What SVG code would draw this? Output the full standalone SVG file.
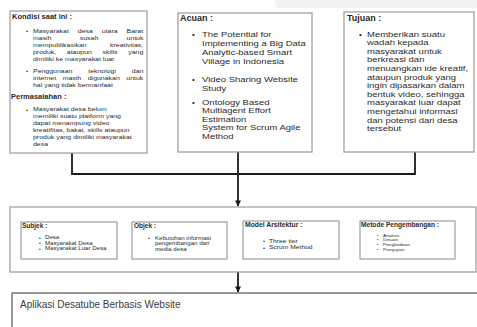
<svg xmlns="http://www.w3.org/2000/svg" width="477" height="327" viewBox="0 0 477 327">
<defs>
<style>
.t{font-family:"Liberation Sans",Arial,sans-serif;fill:#2a2a2a}
.h{font-weight:bold}
.sl{font-size:5.8px}
.sm{font-size:7.3px}
.sb{font-size:4.9px}
.box{fill:#fff;stroke:#9a9a9a;stroke-width:1.2}
.ibox{fill:#fff;stroke:#8a8a8a;stroke-width:1}
.conn{fill:none;stroke:#1a1a1a;stroke-width:1.8}
</style>
<marker id="arr" viewBox="0 0 10 10" refX="9" refY="5" markerWidth="3.4" markerHeight="3.4" orient="auto" markerUnits="strokeWidth">
<path d="M0,0 L10,5 L0,10 z" fill="#1a1a1a"/>
</marker>
</defs>
<rect x="0" y="0" width="477" height="327" fill="#fff"/>
<rect x="275" y="-4" width="206" height="12" rx="4" fill="#f3f3f3"/>

<g id="connectors">
<path class="conn" d="M72,153 V174 H415 V152"/>
<path class="conn" d="M238,152 V206" marker-end="url(#arr)"/>
<path class="conn" d="M238,272 V292" marker-end="url(#arr)"/>
</g>

<g id="kondisi">
<rect class="box" x="10" y="11" width="137" height="142"/>
<text class="t h" x="12" y="19" style="font-size:7.5px">Kondisi saat ini :</text>
<text class="t sl" x="26" y="33">•</text>
<text class="t sl" x="26" y="73">•</text>
<text class="t h" x="11" y="99" style="font-size:7.5px">Permasalahan :</text>
<text class="t sl" x="26" y="111.5">•</text>
<g transform="translate(33,0) scale(1.2,1)">
<text class="t sl" x="0" y="33" word-spacing="5.83">Masyarakat desa utara Barat</text>
<text class="t sl" x="0" y="40" word-spacing="21.9">masih susah untuk</text>
<text class="t sl" x="0" y="47" word-spacing="17.9">mempublikasikan kreativitas,</text>
<text class="t sl" x="0" y="54" word-spacing="7.25">produk, ataupun skills yang</text>
<text class="t sl" x="0" y="61">dimiliki ke masyarakat luar</text>
<text class="t sl" x="0" y="73" word-spacing="11.6">Penggunaan teknologi dan</text>
<text class="t sl" x="0" y="80" word-spacing="3.83">internet masih digunakan untuk</text>
<text class="t sl" x="0" y="87">hal yang tidak bermanfaat</text>
<text class="t sl" x="0" y="111.5">Masyarakat desa belum</text>
<text class="t sl" x="0" y="118.5">memiliki suatu platform yang</text>
<text class="t sl" x="0" y="125.5">dapat menampung video</text>
<text class="t sl" x="0" y="132.5">kreatifitas, bakat, skills ataupun</text>
<text class="t sl" x="0" y="139.5">produk yang dimiliki masyarakat</text>
<text class="t sl" x="0" y="146.5">desa</text>
</g>
</g>

<g id="acuan">
<rect class="box" x="178" y="13" width="134" height="139"/>
<text class="t h" x="180" y="21" style="font-size:9px">Acuan :</text>
<text class="t" x="192" y="37" style="font-size:8px">•</text>
<text class="t" x="192" y="82" style="font-size:8px">•</text>
<text class="t" x="192" y="105" style="font-size:8px">•</text>
<g transform="translate(202,0) scale(1.3,1)">
<text class="t sm" x="0" y="37">The Potential for</text>
<text class="t sm" x="0" y="46">Implementing a Big Data</text>
<text class="t sm" x="0" y="55">Analytic-based Smart</text>
<text class="t sm" x="0" y="64">Village in Indonesia</text>
<text class="t sm" x="0" y="82">Video Sharing Website</text>
<text class="t sm" x="0" y="91">Study</text>
<text class="t sm" x="0" y="105">Ontology Based</text>
<text class="t sm" x="0" y="113.5">Multiagent Effort</text>
<text class="t sm" x="0" y="122">Estimation</text>
<text class="t sm" x="0" y="130.5">System for Scrum Agile</text>
<text class="t sm" x="0" y="139">Method</text>
</g>
</g>

<g id="tujuan">
<rect class="box" x="344" y="12" width="130" height="140"/>
<text class="t h" x="347" y="21" style="font-size:9px">Tujuan :</text>
<text class="t" x="359" y="36.6" style="font-size:8px">•</text>
<g transform="translate(367,0) scale(1.3,1)">
<text class="t sm" x="0" y="36.6">Memberikan suatu</text>
<text class="t sm" x="0" y="45.2">wadah kepada</text>
<text class="t sm" x="0" y="53.8">masyarakat untuk</text>
<text class="t sm" x="0" y="62.4">berkreasi dan</text>
<text class="t sm" x="0" y="71">menuangkan ide kreatif,</text>
<text class="t sm" x="0" y="79.6">ataupun produk yang</text>
<text class="t sm" x="0" y="88.2">ingin dipasarkan dalam</text>
<text class="t sm" x="0" y="96.8">bentuk video, sehingga</text>
<text class="t sm" x="0" y="105.4">masyarakat luar dapat</text>
<text class="t sm" x="0" y="114">mengetahui informasi</text>
<text class="t sm" x="0" y="122.6">dan potensi dari desa</text>
<text class="t sm" x="0" y="131.2">tersebut</text>
</g>
</g>

<g id="rincian">
<rect class="box" x="10" y="207" width="466" height="65"/>
</g>

<g id="subjek">
<rect class="ibox" x="21" y="222" width="96" height="37"/>
<text class="t h" x="22" y="227.5" style="font-size:6.5px">Subjek :</text>
<text class="t sb" x="39" y="239.5">•</text>
<text class="t sb" x="39" y="245">•</text>
<text class="t sb" x="39" y="250.5">•</text>
<g transform="translate(45,0) scale(1.25,1)">
<text class="t sb" x="0" y="239.5">Desa</text>
<text class="t sb" x="0" y="245">Masyarakat Desa</text>
<text class="t sb" x="0" y="250.5">Masyarakat Luar Desa</text>
</g>
</g>

<g id="objek">
<rect class="ibox" x="132" y="222" width="95" height="37"/>
<text class="t h" x="134" y="228" style="font-size:6.5px">Objek :</text>
<text class="t sb" x="148" y="240">•</text>
<g transform="translate(155,0) scale(1.25,1)">
<text class="t sb" x="0" y="240">Kebutuhan informasi</text>
<text class="t sb" x="0" y="245.5">pengembangan dari</text>
<text class="t sb" x="0" y="251">media desa</text>
</g>
</g>

<g id="model">
<rect class="ibox" x="243" y="221" width="96" height="38"/>
<text class="t h" x="245" y="227" style="font-size:6.8px">Model Arsitektur :</text>
<text class="t" x="263" y="243" style="font-size:5.6px">•</text>
<text class="t" x="263" y="249.5" style="font-size:5.6px">•</text>
<g transform="translate(269,0) scale(1.2,1)">
<text class="t" x="0" y="243" style="font-size:5.6px">Three tier</text>
<text class="t" x="0" y="249.5" style="font-size:5.6px">Scrum Method</text>
</g>
</g>

<g id="metode">
<rect class="ibox" x="360" y="221" width="95" height="38"/>
<text class="t h" x="361" y="226.5" style="font-size:6.6px">Metode Pengembangan :</text>
<text class="t" x="377" y="236.7" style="font-size:4px">•</text>
<text class="t" x="377" y="241.4" style="font-size:4px">•</text>
<text class="t" x="377" y="246.1" style="font-size:4px">•</text>
<text class="t" x="377" y="250.8" style="font-size:4px">•</text>
<g transform="translate(383,0) scale(1.2,1)">
<text class="t" x="0" y="236.7" style="font-size:4px">Analisis</text>
<text class="t" x="0" y="241.4" style="font-size:4px">Desain</text>
<text class="t" x="0" y="246.1" style="font-size:4px">Pengkodean</text>
<text class="t" x="0" y="250.8" style="font-size:4px">Pengujian</text>
</g>
</g>

<g id="aplikasi">
<rect x="12" y="293" width="466" height="45" fill="#fff" stroke="#777" stroke-width="1.5"/>
<text class="t" x="20" y="308" style="font-size:10px;fill:#3a3a3a">Aplikasi Desatube Berbasis Website</text>
</g>
</svg>
